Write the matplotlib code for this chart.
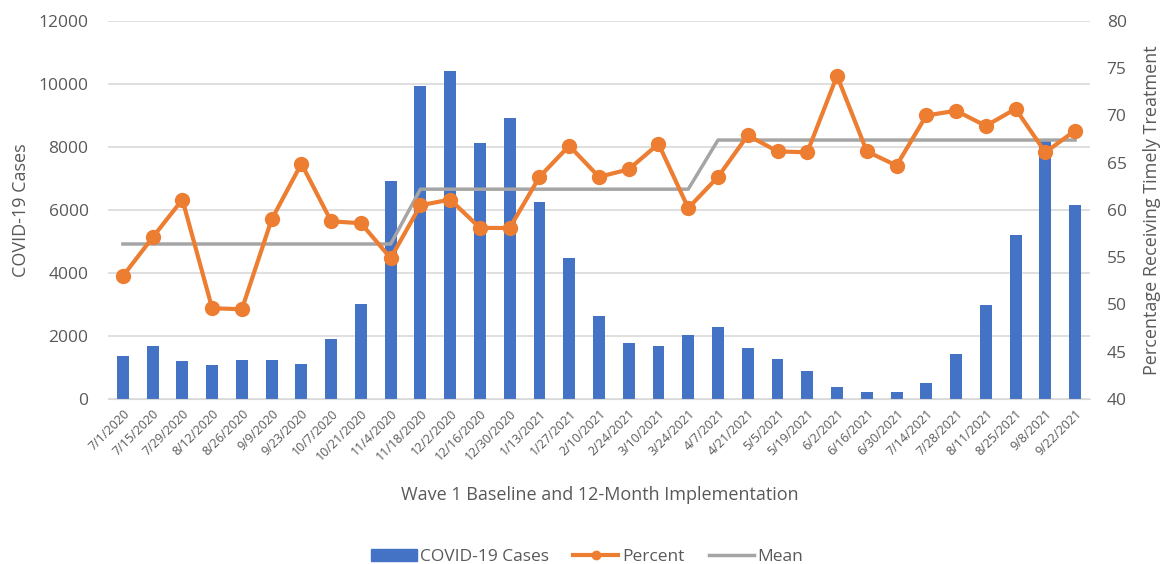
import numpy as np
import matplotlib.pyplot as plt
from matplotlib.lines import Line2D
from matplotlib.patches import Patch

plt.rcParams['font.family'] = ['Open Sans', 'DejaVu Sans']

dates = ["7/1/2020", "7/15/2020", "7/29/2020", "8/12/2020", "8/26/2020", "9/9/2020",
         "9/23/2020", "10/7/2020", "10/21/2020", "11/4/2020", "11/18/2020", "12/2/2020",
         "12/16/2020", "12/30/2020", "1/13/2021", "1/27/2021", "2/10/2021", "2/24/2021",
         "3/10/2021", "3/24/2021", "4/7/2021", "4/21/2021", "5/5/2021", "5/19/2021",
         "6/2/2021", "6/16/2021", "6/30/2021", "7/14/2021", "7/28/2021", "8/11/2021",
         "8/25/2021", "9/8/2021", "9/22/2021"]

cases = [1370, 1680, 1200, 1070, 1240, 1240, 1100, 1890, 3010, 6920,
         9930, 10420, 8120, 8920, 6260, 4460, 2630, 1790, 1690, 2020,
         2290, 1610, 1270, 900, 390, 220, 220, 520, 1440, 2980,
         5190, 8180, 6160]

percent = [53.0, 57.1, 61.1, 49.6, 49.5, 59.0, 64.9, 58.8, 58.6, 54.9,
           60.5, 61.1, 58.1, 58.1, 63.5, 66.8, 63.5, 64.3, 67.0, 60.2,
           63.5, 67.9, 66.2, 66.1, 74.2, 66.2, 64.7, 70.0, 70.5, 68.9,
           70.7, 66.1, 68.4]

mean = [56.4] * 10 + [62.2] * 10 + [67.4] * 13

blue = '#4472C4'
orange = '#ED7D31'
gray = '#A5A5A5'
txt = '#595959'

fig = plt.figure(figsize=(11.65, 5.64), dpi=100)
ax = fig.add_axes([0.0927, 0.2926, 0.8429, 0.6702])
ax2 = ax.twinx()

x = np.arange(len(dates))
ax.bar(x, cases, width=0.4, color=blue, zorder=2)
ax.set_ylim(0, 12000)
ax.set_yticks(np.arange(0, 12001, 2000))
ax.set_xlim(-0.5, len(dates) - 0.5)
ax.grid(axis='y', color='#D9D9D9', linewidth=1.2, zorder=0)
ax.set_axisbelow(True)

ax2.plot(x, percent, color=orange, linewidth=3, marker='o', markersize=10, zorder=3)
ax2.plot(x, mean, color=gray, linewidth=2.5, zorder=2)
ax2.set_ylim(40, 80)
ax2.set_yticks(np.arange(40, 81, 5))

for a in (ax, ax2):
    for s in a.spines.values():
        s.set_visible(False)
    a.tick_params(length=0, labelsize=12.5, labelcolor=txt)
ax.spines['bottom'].set_visible(True)
ax.spines['bottom'].set_color('#D9D9D9')

ax.set_xticks(x)
ax.set_xticklabels(dates, rotation=45, ha='right', rotation_mode='anchor',
                   fontsize=9, color=txt)
ax.tick_params(axis='x', pad=6)
ax.tick_params(axis='y', pad=14)
ax2.tick_params(axis='y', pad=12)

ax.set_ylabel('COVID-19 Cases', fontsize=13, color=txt, labelpad=6)
ax2.set_ylabel('Percentage Receiving Timely Treatment', fontsize=13, color=txt, labelpad=12)
fig.text(0.515, 0.122, 'Wave 1 Baseline and 12-Month Implementation',
         ha='center', va='center', fontsize=13, color=txt)

handles = [Patch(color=blue),
           Line2D([], [], color=orange, linewidth=3, marker='o', markersize=6),
           Line2D([], [], color=gray, linewidth=2.5)]
fig.legend(handles, ['COVID-19 Cases', 'Percent', 'Mean'], loc='center',
           bbox_to_anchor=(0.504, 0.012), ncol=3, frameon=False, fontsize=12.5,
           labelcolor=txt, handlelength=2.6, handletextpad=0.2, columnspacing=1.4)

fig.savefig('out.png', dpi=100)
